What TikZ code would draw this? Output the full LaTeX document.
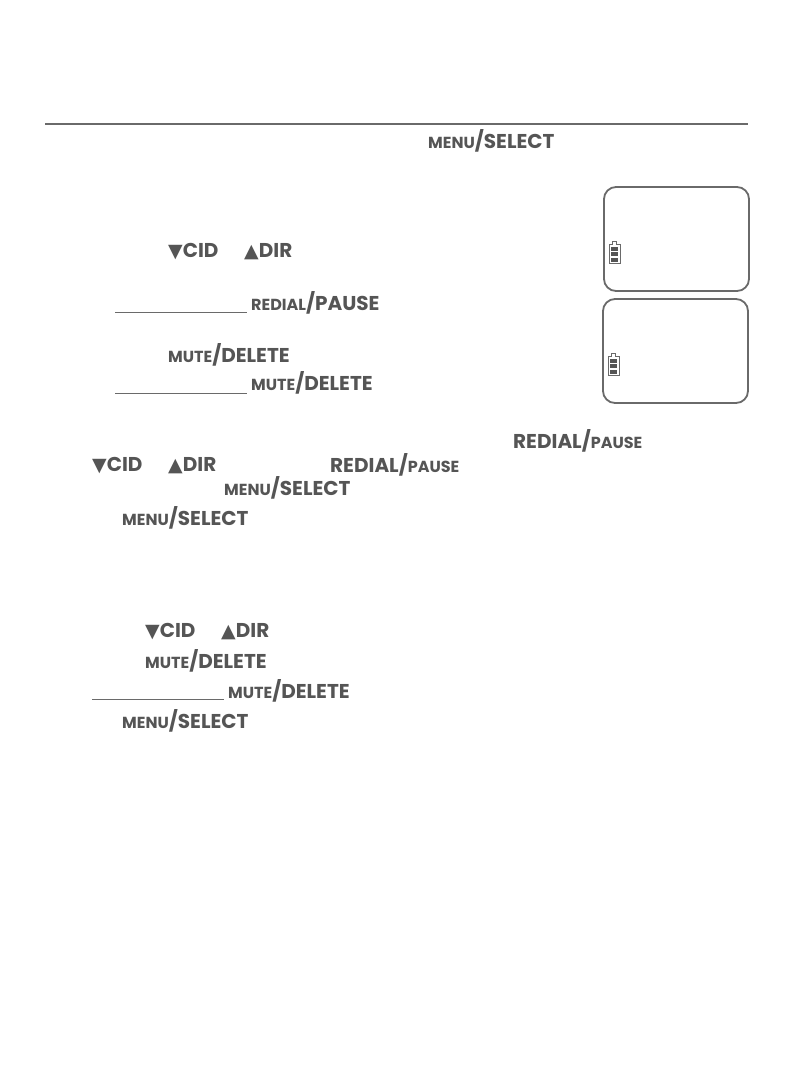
\documentclass[tikz,border=0pt]{standalone}
\usepackage{fontspec}
\setmainfont{Poppins}
\newfontfamily\symfont{DejaVu Sans}
\usepackage{xcolor}
\definecolor{inkgray}{HTML}{555555}
\definecolor{rulegray}{HTML}{6A6A6A}
\newcommand{\keysm}[1]{{\fontsize{16}{18}\selectfont\bfseries #1}}
\newcommand{\keybg}[1]{{\fontsize{20}{22}\selectfont\bfseries #1}}
\newcommand{\downcid}{{\fontsize{19}{22}\selectfont\symfont ▼}\keybg{CID}}
\newcommand{\updir}{{\fontsize{19}{22}\selectfont\symfont ▲}\keybg{DIR}}
\newcommand{\menusel}{\keysm{MENU}\keybg{/SELECT}}
\newcommand{\mutedel}{\keysm{MUTE}\keybg{/DELETE}}
\newcommand{\redialp}{\keysm{REDIAL}\keybg{/PAUSE}}
\newcommand{\redialq}{\keybg{REDIAL/}\keysm{PAUSE}}
\tikzset{
  keylabel/.style={anchor=base west,inner sep=0pt,text=inkgray},
  hairline/.style={draw=rulegray,line width=1pt},
  lcdbox/.style={draw=rulegray,line width=1.8pt,rounded corners=12pt},
  batteryicon/.pic={
    \draw[rulegray,line width=0.6pt] (0,22) -- (0,3) -- (3.5,3) -- (3.5,0) -- (7.5,0) -- (7.5,3) -- (11,3) -- (11,22) -- cycle;
    \foreach \y in {5.5,11,16.5} {
      \fill[inkgray] (1.8,\y) rectangle (9.2,\y+4);
    }
  }
}
\begin{document}
\begin{tikzpicture}[x=1pt,y=-1pt]
\useasboundingbox (0,0) rectangle (794,1077);
\fill[white] (0,0) rectangle (794,1077);
% header rule
\draw[rulegray,line width=2.4pt] (45,124) -- (748,124);
% display boxes
\draw[lcdbox] (604,187) rectangle (749,291);
\draw[lcdbox] (603,299) rectangle (748,403);
\pic at (609,241) {batteryicon};
\pic at (608,353) {batteryicon};
% underlines
\foreach \x/\y in {115/312.5,115/393,92/699.5} {
  \draw[hairline] (\x,\y) -- (\x+132,\y);
}
% key names
\foreach \nm/\x/\y/\txt in {
  menua/428/148/\menusel,
  cida/168/257/\downcid,
  dira/244/257/\updir,
  redialb/251/310/\redialp,
  mutea/168/362/\mutedel,
  muteb/251/390/\mutedel,
  redialc/513/448/\redialq,
  cidb/92/471/\downcid,
  dirb/168/471/\updir,
  redialdd/330/472/\redialq,
  menub/224/495/\menusel,
  menuc/122/525/\menusel,
  cidc/145/637/\downcid,
  dirc/221/637/\updir,
  mutec/145/668/\mutedel,
  muted/228/698/\mutedel,
  menud/122/728/\menusel} {
  \node[keylabel] (\nm) at (\x,\y) {\txt};
}
\end{tikzpicture}
\end{document}
